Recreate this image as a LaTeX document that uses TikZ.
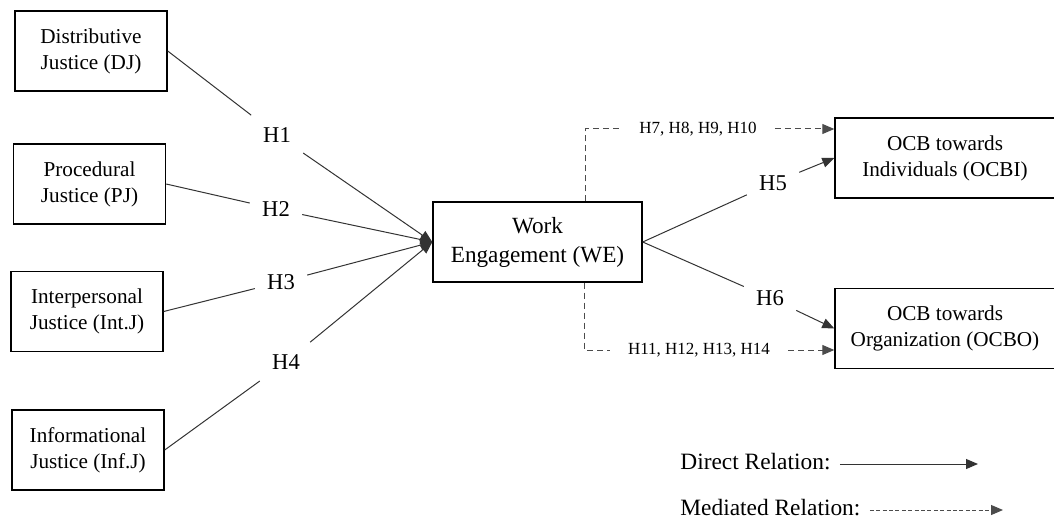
\documentclass[tikz,border=0pt]{standalone}
\usepackage{fontspec}
\setmainfont{Liberation Serif}
\usetikzlibrary{arrows.meta}

\tikzset{
  construct/.style={draw, line width=0.7pt, align=center, inner sep=0pt,
    minimum width=76pt, minimum height=40pt, font=\fontsize{10.6}{13}\selectfont},
  hyp/.style={inner sep=6pt, font=\fontsize{11.3}{13}\selectfont},
  medlab/.style={inner xsep=9pt, inner ysep=2pt, font=\fontsize{8.5}{10}\selectfont},
  legend/.style={inner xsep=2.5pt, inner ysep=0pt, font=\fontsize{11.7}{14}\selectfont},
  direct/.style={draw=black!80, line width=0.5pt, -{Triangle[length=6pt,width=5pt]}},
  mediated/.style={draw=black!70, line width=0.5pt, dash pattern=on 3pt off 2pt,
    -{Triangle[length=6pt,width=5pt]}},
}

\begin{document}
\begin{tikzpicture}[x=0.5pt,y=-0.5pt]
\useasboundingbox (0,0) rectangle (1054,519);

% justice dimensions
\node[construct] (dj) at (91,51) {Distributive\\Justice (DJ)};
\node[construct] (pj) at (89.5,184) {Procedural\\Justice (PJ)};
\node[construct] (intj) at (87,311.5) {Interpersonal\\Justice (Int.J)};
\node[construct] (infj) at (88,450) {Informational\\Justice (Inf.J)};

% mediator and outcomes
\node[construct, minimum width=104.5pt, font=\fontsize{11.6}{14.5}\selectfont] (we) at (537.5,242) {Work\\Engagement (WE)};
\node[construct, minimum width=110pt] (ocbi) at (945,158) {OCB towards\\Individuals (OCBI)};
\node[construct, minimum width=110pt] (ocbo) at (945,328.5) {OCB towards\\Organization (OCBO)};

% hypotheses
\node[hyp] (h1) at (277,135) {H1};
\node[hyp] (h2) at (276,209) {H2};
\node[hyp] (h3) at (281,282) {H3};
\node[hyp] (h4) at (286,362) {H4};
\node[hyp] (h5) at (773,183) {H5};
\node[hyp] (h6) at (770,298) {H6};
\node[medlab] (h7) at (698,129) {H7, H8, H9, H10};
\node[medlab] (h11) at (699,350) {H11, H12, H13, H14};

\draw[direct] (dj.east) -- (h1) -- (we.west);
\draw[direct] (pj.east) -- (h2) -- (we.west);
\draw[direct] (intj.east) -- (h3) -- (we.west);
\draw[direct] (infj.east) -- (h4) -- (we.west);
\draw[direct] (we.east) -- (h5) -- (ocbi.west);
\draw[direct] (we.east) -- (h6) -- (ocbo.west);

\draw[mediated, -] ([xshift=24pt]we.north) |- (h7);
\draw[mediated] (h7) -- (h7 -| ocbi.west);
\draw[mediated, -] ([xshift=23.5pt]we.south) |- (h11);
\draw[mediated] (h11) -- (h11 -| ocbo.west);

% legend
\node[legend, anchor=base west] (dirlab) at (675,469) {Direct Relation:};
\node[legend, anchor=base west] (medlab) at (675,515) {Mediated Relation:};
\coordinate (dirend) at (978,464);
\coordinate (medend) at (1003,510);
\draw[direct] ([xshift=2pt]dirlab.east |- dirend) -- (dirend);
\draw[mediated, dash pattern=on 2pt off 1.2pt] ([xshift=2pt]medlab.east |- medend) -- (medend);
\end{tikzpicture}
\end{document}
